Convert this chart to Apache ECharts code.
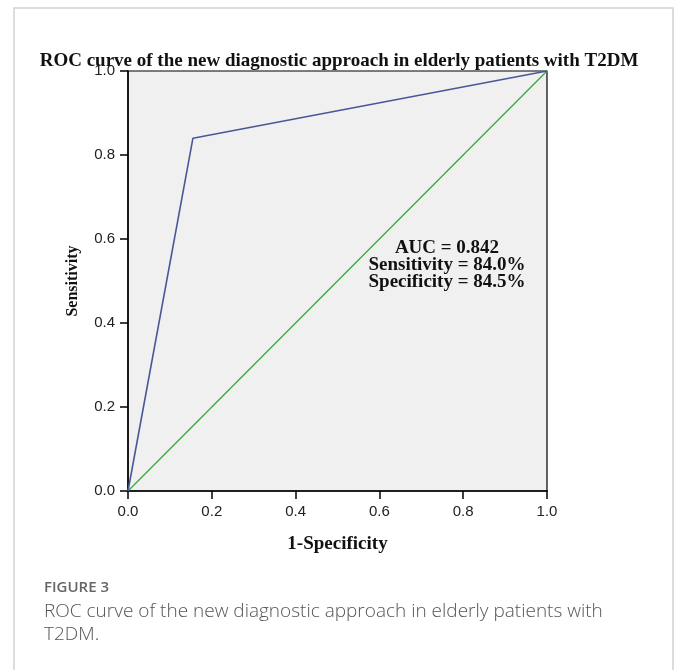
<!DOCTYPE html>
<html>
<head>
<meta charset="utf-8">
<script src="https://cdn.jsdelivr.net/npm/echarts@6/dist/echarts.min.js"></script>
<style>
html,body{margin:0;padding:0;background:#fff;}
#chart{width:678px;height:670px;}
</style>
</head>
<body>
<div id="chart"></div>
<script>
// Data
const rocCurve = [[0, 0], [0.155, 0.84], [1, 1]];
const referenceLine = [[0, 0], [1, 1]];
const tickValues = [0, 0.2, 0.4, 0.6, 0.8, 1.0];
const annotations = ['AUC = 0.842', 'Sensitivity = 84.0%', 'Specificity = 84.5%'];
const chartTitle = 'ROC curve of the new diagnostic approach in elderly patients with T2DM';
const xName = '1-Specificity';
const yName = 'Sensitivity';
const figLabel = 'FIGURE 3';
const captionLines = ['ROC curve of the new diagnostic approach in elderly patients with', 'T2DM.'];

const chart = echarts.init(document.getElementById('chart'));
const serif = '"Liberation Serif", "DejaVu Serif", serif';
const sans = '"Liberation Sans", Arial, sans-serif';

chart.setOption({
  animation: false,
  backgroundColor: '#fff',
  title: {
    text: chartTitle,
    left: 'center',
    top: 47,
    textStyle: { fontFamily: serif, fontWeight: 'bold', fontSize: 19, color: '#111' }
  },
  grid: {
    left: 128, top: 71, width: 419, height: 420,
    show: true, backgroundColor: '#f0f0f0', borderColor: '#000', borderWidth: 1.2
  },
  xAxis: {
    type: 'value', min: 0, max: 1, interval: 0.2,
    name: xName, nameLocation: 'middle', nameGap: 44,
    nameTextStyle: { fontFamily: serif, fontWeight: 'bold', fontSize: 19, color: '#111' },
    axisLine: { show: true, lineStyle: { color: '#000', width: 1.5 } },
    axisTick: { show: true, inside: false, length: 8, lineStyle: { color: '#000', width: 1.5 } },
    axisLabel: { fontFamily: sans, fontSize: 15, color: '#222', margin: 13, formatter: v => v.toFixed(1) },
    splitLine: { show: false }
  },
  yAxis: {
    type: 'value', min: 0, max: 1, interval: 0.2,
    name: yName, nameLocation: 'middle', nameGap: 47, nameRotate: 90,
    nameTextStyle: { fontFamily: serif, fontWeight: 'bold', fontSize: 16, color: '#111' },
    axisLine: { show: true, lineStyle: { color: '#000', width: 1.5 } },
    axisTick: { show: true, inside: false, length: 8, lineStyle: { color: '#000', width: 1.5 } },
    axisLabel: { fontFamily: sans, fontSize: 15, color: '#222', margin: 13, formatter: v => v.toFixed(1) },
    splitLine: { show: false }
  },
  series: [
    {
      type: 'line', data: referenceLine, symbol: 'none', silent: true,
      lineStyle: { color: '#3aa83a', width: 1.3 }
    },
    {
      type: 'line', data: rocCurve, symbol: 'none', silent: true,
      lineStyle: { color: '#4a5796', width: 1.6 }
    }
  ],
  graphic: [
    {
      type: 'rect', silent: true,
      shape: { x: 14, y: 8, width: 659, height: 700 },
      style: { fill: 'none', stroke: '#d2d2d2', lineWidth: 1.5 }
    },
    ...annotations.map((t, i) => ({
      type: 'text', silent: true,
      style: {
        text: t, x: 447, y: 248 + i * 17, align: 'center', verticalAlign: 'middle',
        font: 'bold 19px ' + serif, fill: '#111'
      }
    })),
    {
      type: 'text', silent: true,
      style: { text: figLabel, x: 44, y: 588, verticalAlign: 'middle', font: '600 15px "Open Sans", sans-serif', fill: '#666' }
    },
    ...captionLines.map((t, i) => ({
      type: 'text', silent: true,
      style: { text: t, x: 44, y: 612 + i * 23, verticalAlign: 'middle', font: '300 19px "Open Sans", sans-serif', fill: '#555' }
    }))
  ]
});
</script>
</body>
</html>
